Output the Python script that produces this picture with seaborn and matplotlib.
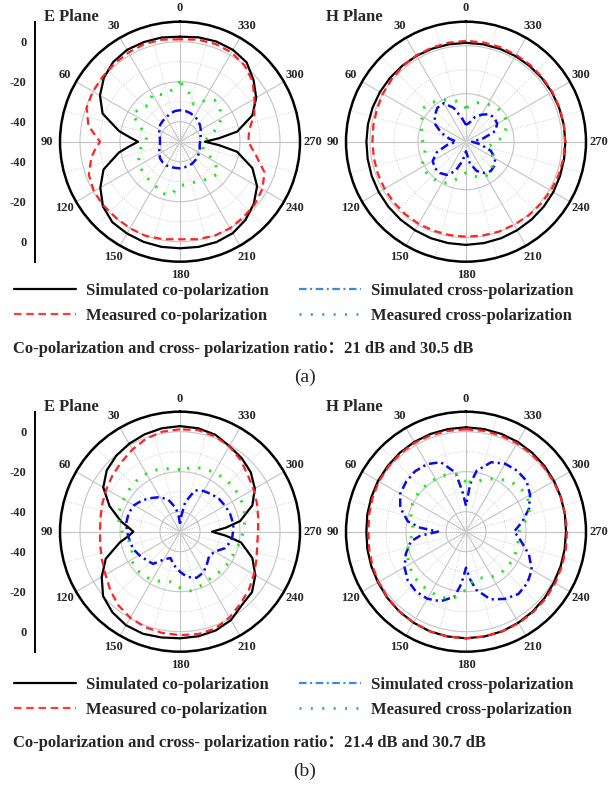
import numpy as np
import matplotlib
matplotlib.use("Agg")
import matplotlib.pyplot as plt
from matplotlib.lines import Line2D
import seaborn as sns

sns.set_style("white")
plt.rcParams["font.family"] = ["Liberation Serif", "Noto Sans CJK SC", "DejaVu Sans"]
plt.rcParams["font.weight"] = "bold"

# ---------------- sampling angles (degrees) ----------------
ANG10 = list(range(0, 361, 10))
ANG_SIDE = [0, 10, 20, 30, 40, 50, 60, 70, 80, 85, 90, 95, 100, 110, 120, 130, 140,
            150, 160, 170, 180, 190, 200, 210, 220, 230, 240, 250, 260, 265, 270,
            275, 280, 290, 300, 310, 320, 330, 340, 350, 360]
ANG_QUAD = [0, 5, 10, 20, 30, 40, 50, 60, 70, 80, 85, 90, 95, 100, 110, 120, 130,
            140, 150, 160, 170, 175, 180, 185, 190, 200, 210, 220, 230, 240, 250,
            260, 265, 270, 275, 280, 290, 300, 310, 320, 330, 340, 350, 355, 360]

# ---------------- (a) E plane, dB ----------------
ea_sim_co = [2.5, 2.9, 3.0, 3.0, 2.0, -0.3, -3.8, -8.8, -19.0, -24.8, -29.0, -24.8,
             -19.0, -9.3, -4.0, 0.3, 2.6, 3.0, 3.3, 3.4, 3.3, 3.4, 3.4, 2.8, 1.0, -1.8,
             -5.5, -11.5, -21.0, -30.5, -37.5, -30.5, -21.0, -11.5, -6.0, -2.0, 1.8,
             3.0, 3.3, 3.0, 2.5]
ea_meas_co = [1.2, 1.8, 2.0, 1.5, 1.0, 0.5, 0.3, -0.3, -3.5, -7.0, -10.0, -7.5, -5.0,
              -1.5, -0.3, -0.2, -0.3, 0.0, 0.1, -0.5, -1.2, -0.5, 0.1, 0.0, -0.7, -1.2,
              -2.5, -5.0, -11.5, -14.0, -15.8, -15.5, -14.8, -10.5, -7.0, -2.7, 0.0,
              1.5, 2.0, 1.8, 1.2]
ea_sim_x = [-34.2, -34.5, -35.2, -36.0, -36.5, -37.0, -38.0, -39.0, -39.8, -40.0,
            -39.8, -39.0, -38.0, -37.0, -36.5, -36.3, -36.5, -36.7, -36.7, -37.0,
            -37.2, -37.5, -38.0, -38.5, -39.0, -39.5, -40.0, -40.0, -39.5, -39.0,
            -38.0, -37.0, -36.0, -35.4, -34.8, -34.4, -34.2]
ea_meas_x = [-20, -24, -25, -22.5, -26, -24, -22.5, -29, -33, -33, -30, -28, -26.5,
             -26, -25.5, -25, -22.5, -23, -28, -28.5, -28.5, -27.5, -26.5, -25, -30,
             -37, -39, -38, -35.5, -30, -26, -24, -23, -26.5, -30, -25, -20]

# ---------------- (a) H plane, dB ----------------
ha_sim_co = [1.2, 1.2, 1.25, 1.3, 1.3, 1.35, 1.4, 1.45, 1.5, 1.5, 1.6, 1.8, 2.0, 2.2,
             2.4, 2.6, 2.8, 2.9, 3.0, 2.9, 2.8, 2.6, 2.4, 2.2, 2.0, 1.7, 1.5, 1.4,
             1.35, 1.3, 1.3, 1.25, 1.2, 1.2, 1.2, 1.2, 1.2]
ha_meas_co = [2.0, 1.9, 1.7, 1.5, 1.0, 0.5, 0.0, -0.5, -0.8, -1.0, -1.0, -0.9, -0.8,
              -0.7, -0.6, -0.5, -0.5, -0.5, -0.4, -0.3, -0.1, 0.0, 0.3, 0.5, 0.8, 1.0,
              1.2, 1.3, 1.4, 1.5, 1.5, 1.6, 1.7, 1.8, 1.9, 2.0, 2.0]
ha_sim_x = [-33, -30, -25, -21.5, -21.5, -23, -25, -29, -33, -36, -32, -27, -24, -23,
            -23, -24, -27, -32, -36, -31, -27, -25, -24, -24.5, -26, -29, -34, -37.5,
            -33, -27, -25, -24.5, -25, -27, -29, -32, -33]
ha_meas_x = [-26, -23, -21.5, -20, -18.5, -17.5, -19, -20, -21.5, -22, -23, -21, -19,
             -19, -19.5, -20, -22, -25, -27, -26, -24, -23.5, -23.5, -25.5, -27, -29,
             -30, -27, -24, -22, -21, -20.5, -21, -22, -22.5, -24, -26]

# ---------------- (b) E plane, dB ----------------
eb_sim_co = [2.8, 2.5, 1.8, 0.8, -0.4, -2.2, -5.7, -12.5, -20.0, -24.0, -26.7, -24.0,
             -19.5, -10.5, -4.8, 0.2, 2.6, 4.0, 4.3, 3.7, 3.3, 3.1, 2.5, 1.0, -2.0,
             -3.0, -6.5, -11.5, -19.0, -27.0, -34.0, -27.0, -19.5, -11.5, -6.8, -3.8,
             -2.0, -0.6, 1.6, 2.5, 2.8]
eb_meas_co = [1.2, 0.8, -0.5, -2.5, -4.5, -6, -7.5, -8.7, -9.6, -10, -9.5, -8.5, -7,
              -4.5, -2, -0.3, 0.8, 1.4, 1.7, 2.0, 1.5, -0.5, -3, -5, -7.3, -9.3, -10.8,
              -11, -10.3, -9, -7.5, -5.8, -3, -0.8, 0.8, 1.6, 1.2]
eb_sim_x = [-46, -42, -38, -33, -30, -28, -25.5, -23.5, -22.7, -22.8, -23.2, -23.5,
            -24, -24.5, -25, -26.5, -28, -29, -34, -36, -33, -31.5, -30, -28.5, -27,
            -25.5, -26.5, -29, -31, -30, -26, -24, -23.7, -23.5, -23.2, -23.2, -23.4,
            -24, -24.5, -25.5, -26.5, -28, -35, -42, -46]
eb_meas_x = [-19, -18, -17, -16.5, -16.5, -17, -17.5, -18, -19, -21, -24, -24.5, -22,
             -21, -21.5, -22, -23.5, -24.5, -22, -20, -21, -22, -22, -21.5, -21, -21,
             -19.5, -18.3, -17, -16, -15.3, -15.2, -15.3, -15.8, -16.2, -17.5, -19]

# ---------------- (b) H plane, dB ----------------
hb_sim_co = [2.2, 2.1, 2.0, 1.8, 1.5, 1.1, 0.8, 0.4, 0.1, -0.2, 0.1, 0.4, 0.8, 1.4,
             2.0, 2.5, 3.0, 3.2, 3.3, 3.2, 3.0, 2.5, 2.0, 1.4, 0.8, 0.4, 0.1, 0.0, 0.2,
             0.5, 0.8, 1.2, 1.5, 1.8, 2.0, 2.1, 2.2]
hb_meas_co = [1.2, 1.2, 1.3, 1.3, 1.0, 0.6, 0.3, -0.3, -0.8, -1.2, -0.8, -0.2, 0.5,
              1.2, 1.9, 2.5, 3.0, 3.2, 3.3, 3.2, 3.0, 2.8, 2.4, 2.0, 1.5, 1.0, 0.7,
              0.5, 0.4, 0.4, 0.5, 0.6, 0.8, 1.0, 1.1, 1.2, 1.2]
hb_sim_x = [-37, -30, -20, -13, -11, -10.5, -11, -12, -15, -20.5, -27, -36, -27, -22,
            -18, -14.5, -12, -11, -11.3, -13, -17, -24, -32, -26, -20.5, -14, -11.2,
            -9.3, -10, -12, -16.5, -22, -24, -26, -24, -21.5, -16.5, -13, -10.5,
            -10.2, -10.8, -13, -19, -26, -37]
hb_meas_x = [-25, -21, -19.8, -19.5, -19.3, -19.2, -19.5, -20.5, -22.5, -24, -21, -18.8,
             -17, -15.6, -15.2, -15, -14.8, -16.5, -21, -26, -25.5, -24, -23, -22.8,
             -22.8, -23, -23.5, -23.5, -20, -16, -14.8, -15, -16.8, -19.5, -22, -25, -25]

legend_labels = ["Simulated co-polarization", "Measured co-polarization",
                 "Simulated cross-polarization", "Measured cross-polarization"]
ratio_texts = ["Co-polarization and cross- polarization ratio\uff1a21 dB and 30.5 dB",
               "Co-polarization and cross- polarization ratio\uff1a21.4 dB and 30.7 dB"]
captions = ["(a)", "(b)"]
angle_labels = list(range(0, 360, 30))

# ---------------- styles ----------------
BLACK, RED, BLUE, GREEN = "#000000", "#ff2424", "#0a0aee", "#1ee61e"
STY_SIM_CO = dict(color=BLACK, lw=1.6, linestyle="-")
STY_MEAS_CO = dict(color=RED, lw=1.6, linestyle=(0, (3.4, 2.1)))
STY_SIM_X = dict(color=BLUE, lw=1.8, linestyle=(0, (3.4, 1.6, 0.9, 1.6)))
STY_MEAS_X = dict(color=GREEN, lw=2.2, linestyle=(0, (0.7, 3.0)))

W, H, R = 609.0, 788.0, 120.0
fig = plt.figure(figsize=(W / 100, H / 100), dpi=100)


def polar_rect(cx, cy):
    return [(cx - R) / W, 1 - (cy + R) / H, 2 * R / W, 2 * R / H]


def draw_polar(cx, cy, rlim, rmajor, rminor, series):
    ax = fig.add_axes(polar_rect(cx, cy), projection="polar")
    ax.set_theta_zero_location("N")
    ax.set_theta_direction(1)
    for ang, vals, sty in series:
        sns.lineplot(x=np.deg2rad(ang), y=vals, ax=ax, sort=False, estimator=None,
                     legend=False, **sty)
    ax.set_ylim(*rlim)
    ax.set_xticks(np.deg2rad(np.arange(0, 360, 30)))
    ax.set_xticks(np.deg2rad(np.arange(15, 360, 30)), minor=True)
    ax.set_xticklabels([])
    ax.set_xticklabels([], minor=True)
    ax.set_yticks(rmajor)
    ax.set_yticks(rminor, minor=True)
    ax.set_yticklabels([])
    ax.set_yticklabels([], minor=True)
    ax.tick_params(axis="y", which="both", length=0)
    ax.tick_params(axis="x", which="major", direction="in", length=6, width=1.3,
                   colors="black")
    ax.tick_params(axis="x", which="minor", direction="in", length=3.5, width=1.0,
                   colors="black")
    ax.grid(which="major", color="#c4c4c4", lw=0.8, ls="-")
    ax.grid(which="minor", color="#cfcfcf", lw=0.7, ls=(0, (1, 1.5)))
    ax.spines["polar"].set_linewidth(1.8)
    ax.spines["polar"].set_color("black")
    ax.set_xlabel("")
    ax.set_ylabel("")
    for a in angle_labels:
        t = np.deg2rad(a)
        ax.text(0.5 - 0.555 * np.sin(t), 0.5 + 0.555 * np.cos(t), str(a),
                transform=ax.transAxes, ha="center", va="center", fontsize=9,
                fontweight="bold")
    return ax


def draw_db_axis(cy):
    ax = fig.add_axes([35 / W, 1 - (cy + R) / H, 0.0005, 2 * R / H])
    ax.set_ylim(-60, 60)
    ax.set_xticks([])
    for s in ("top", "right", "bottom"):
        ax.spines[s].set_visible(False)
    ax.spines["left"].set_linewidth(1.4)
    ax.spines["left"].set_color("black")
    ax.set_facecolor("none")
    pos = [50, 30, 10, -10, -30, -50]
    ax.set_yticks(pos)
    ax.set_yticklabels(["0", "-20", "-40", "-40", "-20", "0"], fontsize=9,
                       fontweight="bold")
    ax.set_yticks(list(range(-60, 61, 20)), minor=True)
    ax.tick_params(axis="y", which="major", length=4, width=1.2, pad=2)
    ax.tick_params(axis="y", which="minor", length=3, width=1.0)


rows = [
    (141.7, [(ANG_SIDE, ea_sim_co, STY_SIM_CO), (ANG_SIDE, ea_meas_co, STY_MEAS_CO),
             (ANG10, ea_sim_x, STY_SIM_X), (ANG10, ea_meas_x, STY_MEAS_X)],
     [(ANG10, ha_sim_co, STY_SIM_CO), (ANG10, ha_meas_co, STY_MEAS_CO),
      (ANG10, ha_sim_x, STY_SIM_X), (ANG10, ha_meas_x, STY_MEAS_X)],
     (-40, 10), [-20, 0], [-30, -10], 291),
    (531.7, [(ANG_SIDE, eb_sim_co, STY_SIM_CO), (ANG10, eb_meas_co, STY_MEAS_CO),
             (ANG_QUAD, eb_sim_x, STY_SIM_X), (ANG10, eb_meas_x, STY_MEAS_X)],
     [(ANG10, hb_sim_co, STY_SIM_CO), (ANG10, hb_meas_co, STY_MEAS_CO),
      (ANG_QUAD, hb_sim_x, STY_SIM_X), (ANG10, hb_meas_x, STY_MEAS_X)],
     (-50, 10), [-40, -20, 0], [-30, -10], 685),
]

legend_handles = [
    Line2D([], [], color=BLACK, lw=1.6, ls="-"),
    Line2D([], [], color="#ff3a3a", lw=1.6, ls=(0, (3.4, 2.1))),
    Line2D([], [], color="#3a8ae0", lw=1.6, ls=(0, (3.4, 1.6, 0.9, 1.6))),
    Line2D([], [], color="#22c060", lw=2.0, ls=(0, (0.7, 3.4))),
]

for i, (cy, e_series, h_series, h_rlim, h_major, h_minor, leg_y) in enumerate(rows):
    draw_polar(180, cy, (-50, 10), [-40, -20, 0], [-30, -10], e_series)
    draw_polar(466, cy, h_rlim, h_major, h_minor, h_series)
    draw_db_axis(cy)
    top = cy - 141.7
    fig.text(44 / W, 1 - (top + 17) / H, "E Plane", fontsize=12, fontweight="bold",
             ha="left", va="center")
    fig.text(326 / W, 1 - (top + 17) / H, "H Plane", fontsize=12, fontweight="bold",
             ha="left", va="center")
    fig.legend(legend_handles, legend_labels, loc="upper left",
               bbox_to_anchor=(14 / W, 1 - (leg_y - 8) / H), ncol=2, frameon=False,
               fontsize=12, handlelength=3.7, handletextpad=0.6, columnspacing=1.85,
               labelspacing=0.55, borderaxespad=0, borderpad=0)
    fig.text(13 / W, 1 - (leg_y + 58) / H, ratio_texts[i], fontsize=12,
             fontweight="bold", ha="left", va="center")
    fig.text(305 / W, 1 - (leg_y + 86) / H, captions[i], fontsize=14,
             fontweight="normal", ha="center", va="center")

fig.savefig("out.png", dpi=100)
